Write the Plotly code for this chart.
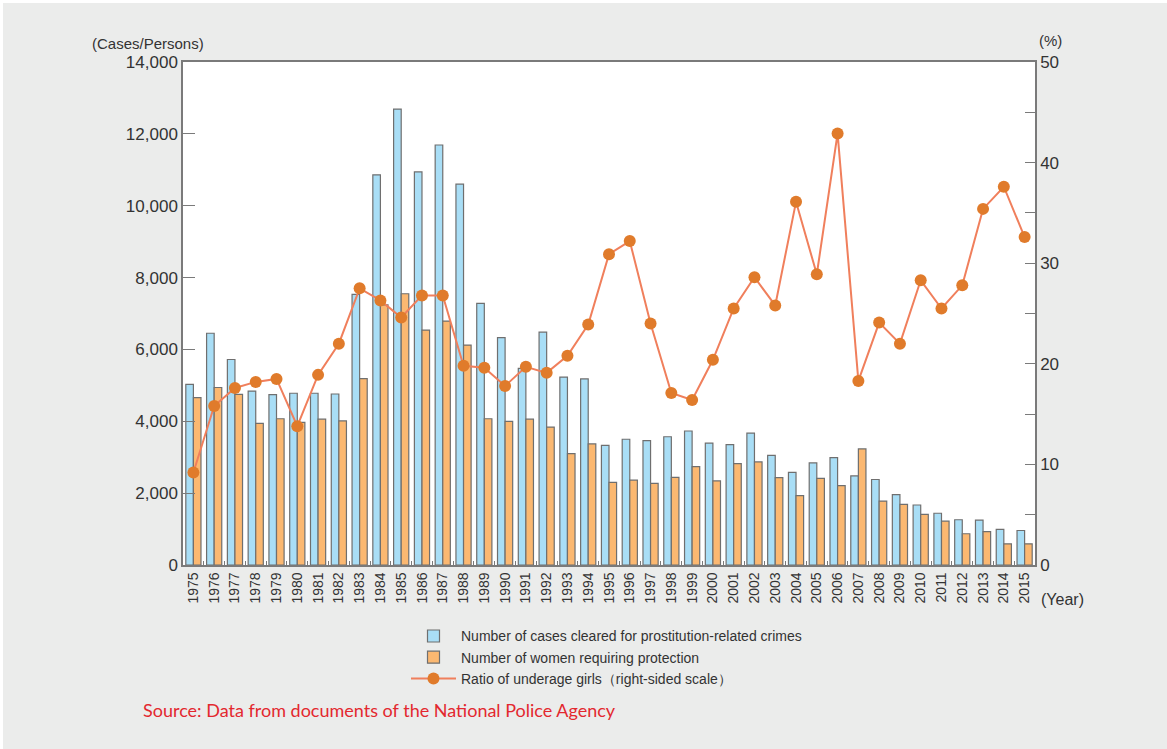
import plotly.graph_objects as go

years = [str(y) for y in range(1975, 2016)]
cases = [5030, 6450, 5720, 4840, 4740, 4780, 4780, 4760, 7530, 10860,
         12690, 10940, 11690, 10600, 7280, 6330, 5470, 6480, 5230, 5180,
         3330, 3500, 3460, 3570, 3730, 3390, 3350, 3670, 3050, 2580,
         2840, 2990, 2480, 2380, 1960, 1670, 1440, 1260, 1250, 990, 960]
women = [4660, 4940, 4750, 3940, 4070, 3970, 4060, 4010, 5190, 7240,
         7550, 6540, 6790, 6120, 4070, 4000, 4060, 3840, 3100, 3370,
         2300, 2360, 2270, 2440, 2740, 2340, 2820, 2870, 2430, 1930,
         2410, 2210, 3230, 1780, 1690, 1410, 1220, 870, 930, 590, 590]
ratio = [9.2, 15.8, 17.6, 18.2, 18.5, 13.8, 18.9, 22.0, 27.5, 26.3,
         24.6, 26.8, 26.8, 19.8, 19.6, 17.8, 19.7, 19.1, 20.8, 23.9,
         30.9, 32.2, 24.0, 17.1, 16.4, 20.4, 25.5, 28.6, 25.8, 36.1,
         28.9, 42.9, 18.3, 24.1, 22.0, 28.3, 25.5, 27.8, 35.4, 37.6, 32.6]

left_ticks = [0, 2000, 4000, 6000, 8000, 10000, 12000, 14000]
right_ticks = [0, 10, 20, 30, 40, 50]

name_cases = "Number of cases cleared for prostitution-related crimes"
name_women = "Number of women requiring protection"
name_ratio = "Ratio of underage girls（right-sided scale）"

FONT = "Liberation Sans, Arial, sans-serif"
AX = "#7a7a7a"

# page offset (body margin) and figure geometry in reference pixels
OFF = 3
W, H = 1167 - OFF, 749 - OFF
L, T = 183 - OFF, 61.5 - OFF
PW, PH = 852, 504
R, B = W - L - PW, H - T - PH


def px(x):
    return (x - OFF - L) / PW


def py(y):
    return (H - B - (y - OFF)) / PH


fig = go.Figure()
fig.add_trace(go.Bar(x=years, y=cases, name=name_cases,
                     marker=dict(color="#a9def6", line=dict(color="#6f6f6f", width=1.2))))
fig.add_trace(go.Bar(x=years, y=women, name=name_women,
                     marker=dict(color="#fbb871", line=dict(color="#6f6f6f", width=1.2))))
fig.add_trace(go.Scatter(x=years, y=ratio, name=name_ratio, yaxis="y2",
                         mode="lines+markers",
                         line=dict(color="#f07f5c", width=2),
                         marker=dict(color="#e07b2b", size=12)))

txt = dict(size=15, color="#333333")
fig.update_layout(
    width=W, height=H,
    paper_bgcolor="#ebeceb", plot_bgcolor="#ffffff",
    margin=dict(l=L, r=R, t=T, b=B, pad=0),
    barmode="group", bargap=0.27, bargroupgap=0,
    font=dict(family=FONT, color="#333333", size=14),
    showlegend=True,
    legend=dict(x=px(406), y=py(621), xanchor="left", yanchor="top",
                bgcolor="rgba(0,0,0,0)", font=dict(size=14, color="#333333"),
                tracegroupgap=0, itemwidth=45),
    xaxis=dict(type="category", range=[-0.5, 40.5], tickangle=-90, tickfont=dict(size=14),
               showline=True, linecolor=AX, linewidth=1.5, mirror=True,
               ticks="inside", ticklen=4, tickcolor=AX, tickson="boundaries",
               showgrid=False, zeroline=False),
    yaxis=dict(range=[0, 14000], tickvals=left_ticks, tickformat=",",
               tickfont=dict(size=17), showline=True, linecolor=AX, linewidth=1.5,
               mirror=True, ticks="inside", ticklen=12, tickcolor=AX,
               showgrid=False, zeroline=False),
    yaxis2=dict(range=[0, 50], tickvals=right_ticks, overlaying="y", side="right",
                tickfont=dict(size=17), showline=True, linecolor=AX, linewidth=1.5,
                ticks="inside", ticklen=10, tickcolor=AX,
                minor=dict(dtick=5, ticks="inside", ticklen=10, tickcolor=AX),
                showgrid=False, zeroline=False),
    annotations=[
        dict(text="(Cases/Persons)", x=px(148), y=py(43), xref="paper", yref="paper",
             xanchor="center", yanchor="middle", showarrow=False, font=txt),
        dict(text="(%)", x=px(1050), y=py(40), xref="paper", yref="paper",
             xanchor="center", yanchor="middle", showarrow=False, font=txt),
        dict(text="(Year)", x=px(1062), y=py(600), xref="paper", yref="paper",
             xanchor="center", yanchor="middle", showarrow=False, font=dict(size=16, color="#333333")),
        dict(text="Source: Data from documents of the National Police Agency",
             x=px(141), y=py(711), xref="paper", yref="paper",
             xanchor="left", yanchor="middle", showarrow=False,
             font=dict(size=18, color="#e3282f", family="Lato, Open Sans, sans-serif")),
    ],
)

fig.write_html("out.html",
               post_script="document.body.style.margin='%dpx 0 0 %dpx';" % (OFF, OFF))
